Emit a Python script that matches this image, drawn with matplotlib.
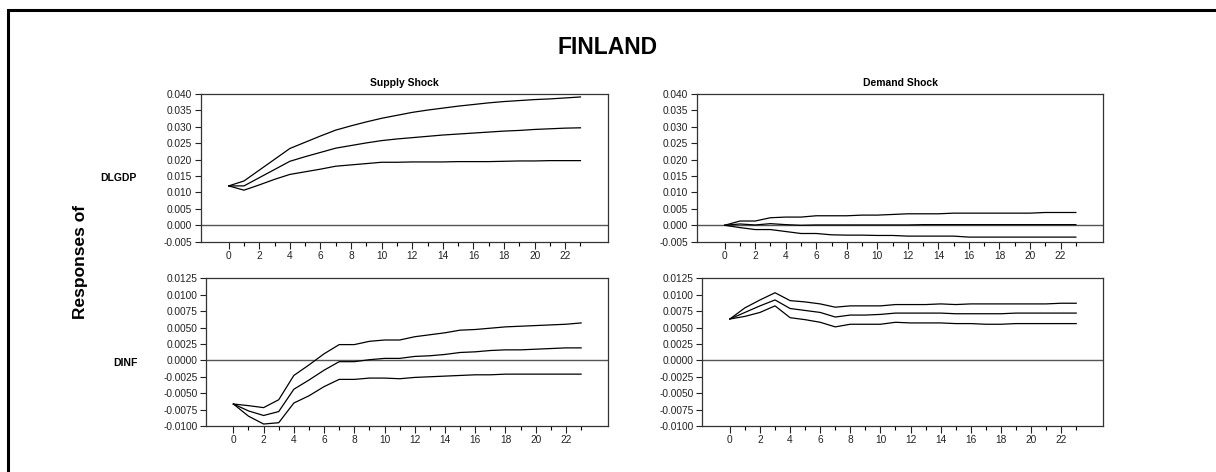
import numpy as np
import matplotlib
matplotlib.use("Agg")
import matplotlib.pyplot as plt
from matplotlib.patches import Rectangle

plt.rcParams["font.family"] = ["Liberation Sans", "DejaVu Sans"]

# horizon 0..23
periods = np.arange(24)

# Supply shock -> DLGDP
sup_gdp_mid = [0.0120, 0.0120, 0.0145, 0.0170, 0.0195, 0.0209, 0.0222, 0.0235, 0.0243, 0.0251,
               0.0258, 0.0263, 0.0267, 0.0271, 0.0275, 0.0278, 0.0281, 0.0284, 0.0287, 0.0289,
               0.0292, 0.0294, 0.0296, 0.0297]
sup_gdp_up = [0.0120, 0.0135, 0.0168, 0.0201, 0.0234, 0.0253, 0.0272, 0.0290, 0.0303, 0.0315,
              0.0326, 0.0335, 0.0344, 0.0351, 0.0357, 0.0363, 0.0368, 0.0373, 0.0377, 0.0380,
              0.0383, 0.0385, 0.0388, 0.0391]
sup_gdp_lo = [0.0120, 0.0107, 0.0123, 0.0140, 0.0155, 0.0163, 0.0171, 0.0180, 0.0184, 0.0188,
              0.0192, 0.0192, 0.0193, 0.0193, 0.0193, 0.0194, 0.0194, 0.0194, 0.0195, 0.0196,
              0.0196, 0.0197, 0.0197, 0.0197]

# Demand shock -> DLGDP
dem_gdp_mid = [0.0, 0.0004, 0.0001, 0.0005, 0.0002, 0.0000, 0.0001, 0.0001, 0.0001, 0.0001,
               0.0001, 0.0001, 0.0001, 0.0002, 0.0002, 0.0002, 0.0002, 0.0002, 0.0002, 0.0002,
               0.0002, 0.0002, 0.0002, 0.0002]
dem_gdp_up = [0.0, 0.0013, 0.0013, 0.0023, 0.0025, 0.0025, 0.0029, 0.0029, 0.0029, 0.0031,
              0.0031, 0.0033, 0.0035, 0.0035, 0.0035, 0.0037, 0.0037, 0.0037, 0.0037, 0.0037,
              0.0037, 0.0039, 0.0039, 0.0039]
dem_gdp_lo = [0.0, -0.0007, -0.0013, -0.0013, -0.0019, -0.0025, -0.0025, -0.0029, -0.0030, -0.0030,
              -0.0031, -0.0031, -0.0033, -0.0033, -0.0033, -0.0033, -0.0036, -0.0036, -0.0036, -0.0036,
              -0.0036, -0.0036, -0.0036, -0.0036]

# Supply shock -> DINF
sup_inf_mid = [-0.00665, -0.0077, -0.0084, -0.0078, -0.0044, -0.0030, -0.0015, -0.0002, -0.0002, 0.0001,
               0.0003, 0.0003, 0.0006, 0.0007, 0.0009, 0.0012, 0.0013, 0.0015, 0.0016, 0.0016,
               0.0017, 0.0018, 0.0019, 0.0019]
sup_inf_up = [-0.00665, -0.0069, -0.0072, -0.0060, -0.0023, -0.0007, 0.0010, 0.0024, 0.0024, 0.0029,
              0.0031, 0.0031, 0.0036, 0.0039, 0.0042, 0.0046, 0.0047, 0.0049, 0.0051, 0.0052,
              0.0053, 0.0054, 0.0055, 0.0057]
sup_inf_lo = [-0.00665, -0.0085, -0.0097, -0.0095, -0.0065, -0.0054, -0.0040, -0.0029, -0.0029, -0.0027,
              -0.0027, -0.0028, -0.0026, -0.0025, -0.0024, -0.0023, -0.0022, -0.0022, -0.0021, -0.0021,
              -0.0021, -0.0021, -0.0021, -0.0021]

# Demand shock -> DINF
dem_inf_mid = [0.0063, 0.0073, 0.0083, 0.0092, 0.0079, 0.0076, 0.0073, 0.0066, 0.0069, 0.0069,
               0.0070, 0.0072, 0.0072, 0.0072, 0.0072, 0.0071, 0.0071, 0.0071, 0.0071, 0.0072,
               0.0072, 0.0072, 0.0072, 0.0072]
dem_inf_up = [0.0063, 0.0080, 0.0092, 0.0103, 0.0091, 0.0089, 0.0086, 0.0081, 0.0083, 0.0083,
              0.0083, 0.0085, 0.0085, 0.0085, 0.0086, 0.0085, 0.0086, 0.0086, 0.0086, 0.0086,
              0.0086, 0.0086, 0.0087, 0.0087]
dem_inf_lo = [0.0063, 0.0067, 0.0073, 0.0083, 0.0065, 0.0062, 0.0058, 0.0051, 0.0055, 0.0055,
              0.0055, 0.0058, 0.0057, 0.0057, 0.0057, 0.0056, 0.0056, 0.0055, 0.0055, 0.0056,
              0.0056, 0.0056, 0.0056, 0.0056]

gdp_ticks = [-0.005, 0.000, 0.005, 0.010, 0.015, 0.020, 0.025, 0.030, 0.035, 0.040]
inf_ticks = [-0.0100, -0.0075, -0.0050, -0.0025, 0.0000, 0.0025, 0.0050, 0.0075, 0.0100, 0.0125]

W, H = 1216, 472
fig = plt.figure(figsize=(W / 100, H / 100), dpi=100)


def px_axes(x0, y0, x1, y1):
    return fig.add_axes([x0 / W, 1 - y1 / H, (x1 - x0) / W, (y1 - y0) / H])


def setup(ax, ticks, fmt):
    ax.set_xlim(-1.83, 24.8)
    ax.set_ylim(ticks[0], ticks[-1])
    ax.set_yticks(ticks)
    ax.set_yticklabels([fmt.format(t) for t in ticks])
    ax.set_xticks(range(0, 24, 2))
    ax.set_xticks(range(0, 24), minor=True)
    ax.tick_params(axis="x", which="major", length=5, width=0.8, labelsize=7.3, pad=1.5, colors="#222222")
    ax.tick_params(axis="x", which="minor", length=3, width=0.8)
    ax.tick_params(axis="y", length=4, width=0.8, labelsize=7.3, pad=2, colors="#222222")
    for s in ax.spines.values():
        s.set_linewidth(0.9)
        s.set_color("#333333")
    ax.axhline(0, color="#555555", lw=1.0, zorder=1)


panels = [
    ((200.7, 94, 608, 241.7), gdp_ticks, "{:.3f}", (sup_gdp_mid, sup_gdp_up, sup_gdp_lo)),
    ((696.7, 94, 1103.3, 241.7), gdp_ticks, "{:.3f}", (dem_gdp_mid, dem_gdp_up, dem_gdp_lo)),
    ((205.7, 278.3, 608.3, 426), inf_ticks, "{:.4f}", (sup_inf_mid, sup_inf_up, sup_inf_lo)),
    ((702.3, 278.3, 1103.3, 426), inf_ticks, "{:.4f}", (dem_inf_mid, dem_inf_up, dem_inf_lo)),
]

for box, ticks, fmt, series in panels:
    ax = px_axes(*box)
    setup(ax, ticks, fmt)
    for s in series:
        ax.plot(periods, s, color="black", lw=0.9, zorder=2)

# texts
fig.text(608 / W, 1 - 47 / H, "FINLAND", ha="center", va="center", fontsize=16.5, fontweight="bold")
fig.text(404 / W, 1 - 83 / H, "Supply Shock", ha="center", va="center", fontsize=7.5, fontweight="bold")
fig.text(900 / W, 1 - 83 / H, "Demand Shock", ha="center", va="center", fontsize=7.5, fontweight="bold")
fig.text(80 / W, 1 - 262 / H, "Responses of", ha="center", va="center", rotation=90,
         fontsize=12.5, fontweight="bold")
fig.text(118 / W, 1 - 178 / H, "DLGDP", ha="center", va="center", fontsize=7.5, fontweight="bold")
fig.text(125 / W, 1 - 363 / H, "DINF", ha="center", va="center", fontsize=7.5, fontweight="bold")

# outer frame (right and bottom run off the image)
fig.patches.append(Rectangle((8 / W, -0.05), 1.2, 1 - 10 / H + 0.05, transform=fig.transFigure,
                             fill=False, lw=2.2, edgecolor="black"))

fig.savefig("out.png", dpi=100)
